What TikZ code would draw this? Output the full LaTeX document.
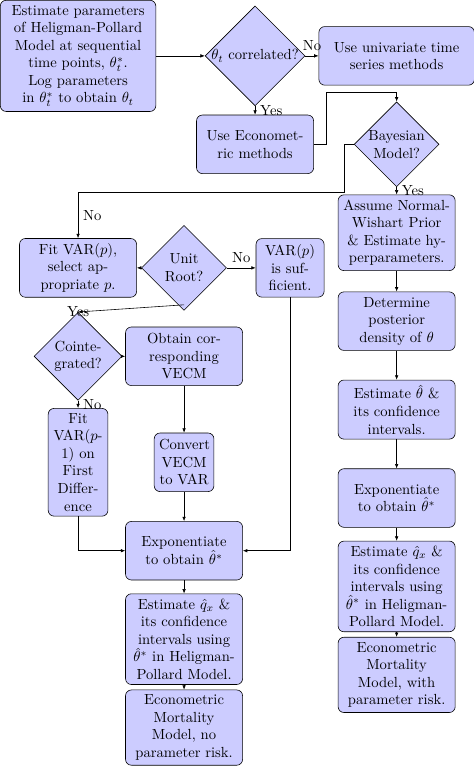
\documentclass[tikz,border=0pt]{standalone}
\usepackage{xcolor}
\usepackage{tikz}
\usetikzlibrary{arrows.meta,positioning,shapes.geometric,calc}
\usepackage{amsmath}

\begin{document}
\begin{tikzpicture}[
  node distance=60.4pt, on grid,
  block/.style={draw, rounded corners, fill=blue!20, text width=73.3pt, align=center, minimum height=4em},
  wideblock/.style={block, text width=3.5cm},
  thinblock/.style={block, text width=1.2cm},
  decision/.style={diamond, draw, fill=blue!20, text width=3.9em, align=center, inner sep=0pt},
  flow/.style={draw, -{Latex[length=3pt,width=2.4pt]}}
]
% top row
\node[wideblock] (start) {Estimate parameters of Heligman-Pollard Model at sequential time points, $\theta_t^*$.\\ Log parameters in $\theta_t^*$ to obtain $\theta_t$};
\useasboundingbox (start.north west) rectangle ++(323.7pt,-523.9pt);
\node[decision, text width=, right=120.9pt of start] (corr) {$\theta_t$ correlated?};
\node[wideblock, right=96.7pt of corr] (univ) {Use univariate time series methods};
\node[block, below=of corr] (econ) {Use Econometric methods};
\node[decision, below=of univ] (bayes) {Bayesian Model?};

% bayesian branch
\node[block, below=of bayes] (wishart) {Assume Normal-Wishart Prior \& Estimate hyperparameters.};
\node[block, below=of wishart] (posterior) {Determine posterior density of $\theta$};
\node[block, below=of posterior] (thetahat) {Estimate $\hat{\theta}$ \& its confidence intervals.};
\node[block, below=of thetahat] (expR) {Exponentiate to obtain $\hat{\theta}^*$};
\node[block, below=of expR] (qxR) {Estimate $\hat{q}_x$ \& its confidence intervals using $\hat{\theta}^*$ in Heligman-Pollard Model.};
\node[block, below=of qxR] (riskR) {Econometric Mortality Model, with parameter risk.};

% VAR branch
\node[block, below=144.8pt of start] (fitvar) {Fit VAR($p$), select appropriate $p$.};
\node[decision, right=72.4pt of fitvar] (unitroot) {Unit Root?};
\node[block, text width=1.4cm, right=72.4pt of unitroot] (varsuff) {VAR($p$) is sufficient.};
\node[decision, below=of fitvar] (coint) {Cointe\-grated?};
\node[block, right=72.4pt of coint] (vecm) {Obtain cor-\\responding VECM};
\node[thinblock, below=72.4pt of coint] (fitdiff) {Fit VAR($p$-1) on First Differ-\\ence};
\node[thinblock, below=72.4pt of vecm] (convert) {Convert VECM to VAR};
\node[block, below=of convert] (expL) {Exponentiate to obtain $\hat{\theta}^*$};
\node[block, below=of expL] (qxL) {Estimate $\hat{q}_x$ \& its confidence intervals using $\hat{\theta}^*$ in Heligman-Pollard Model.};
\node[block, below=of qxL] (norisk) {Econometric Mortality Model, no parameter risk.};

% connectors
\draw[flow] (start) -- (corr);
\draw[flow] (corr) -- node[above] {No} (univ);
\draw[flow] (corr) -- node[right] {Yes} (econ);
\draw[flow] (econ.east) -- ++(8.2pt,0) |- ([yshift=6.1pt]bayes.north) -- (bayes.north);
\draw[flow] (bayes.west) -- ++(-6.8pt,0) |- ([yshift=31.4pt]fitvar.north) -- node[right] {No} (fitvar.north);
\draw[flow] (bayes) -- node[right] {Yes} (wishart);
\draw[flow] (wishart) -- (posterior);
\draw[flow] (posterior) -- (thetahat);
\draw[flow] (thetahat) -- (expR);
\draw[flow] (expR) -- (qxR);
\draw[flow] (qxR) -- (riskR);
\draw[flow] (unitroot) -- (fitvar);
\draw[flow] (unitroot) -- node[above] {No} (varsuff);
\draw[flow] ([yshift=4pt]unitroot.south) -- node[pos=1] {Yes} (coint.north);
\draw[flow] (coint) -- (vecm);
\draw[flow] (coint) -- node[right] {No} (fitdiff);
\draw[flow] (vecm) -- (convert);
\draw[flow] (convert) -- (expL);
\draw[flow] (fitdiff.south) |- (expL.west);
\draw[flow] (varsuff.south) |- (expL.east);
\draw[flow] (expL) -- (qxL);
\draw[flow] (qxL) -- (norisk);
\end{tikzpicture}
\end{document}
